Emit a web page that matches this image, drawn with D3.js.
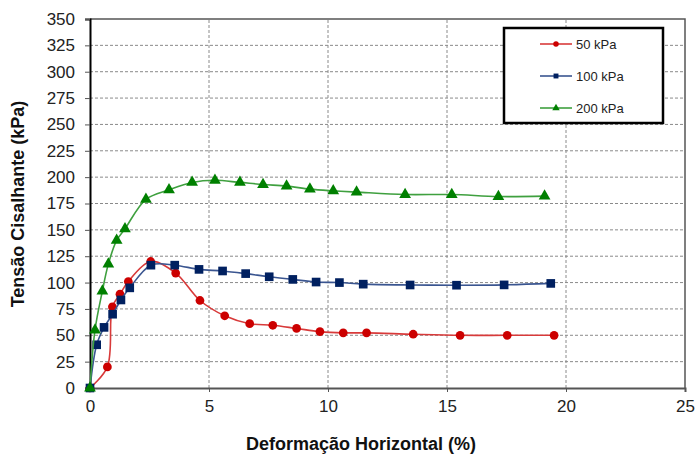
<!DOCTYPE html>
<html>
<head>
<meta charset="utf-8">
<script src="https://cdn.jsdelivr.net/npm/d3@7"></script>
<style>
  body { margin: 0; background: #fff; }
  svg { display: block; }
</style>
</head>
<body>
<div id="chart"></div>
<script>
// valores
const xTicks = [0, 5, 10, 15, 20, 25];
const yTicks = d3.range(0, 351, 25);

const x50 = [0, 0.73, 0.94, 1.26, 1.61, 2.55, 3.6, 4.62, 5.66, 6.71, 7.68, 8.68, 9.66, 10.64, 11.62, 13.58, 15.55, 17.53, 19.5];
const y50 = [0, 20, 77, 89, 101, 120, 109, 83, 68.5, 61, 59.5, 56.5, 53.5, 52.3, 52.3, 51, 50, 50, 50];

const x100 = [0, 0.28, 0.59, 0.95, 1.3, 1.67, 2.56, 3.56, 4.58, 5.57, 6.54, 7.53, 8.52, 9.5, 10.48, 11.48, 13.45, 15.4, 17.4, 19.36];
const y100 = [0, 41, 57.5, 70, 83.5, 95, 116.5, 116.5, 112.5, 111, 108.5, 105.5, 103, 100.5, 100, 98.5, 97.7, 97.5, 97.8, 99.2];

const x200 = [0, 0.21, 0.52, 0.77, 1.12, 1.47, 2.35, 3.32, 4.29, 5.25, 6.3, 7.27, 8.26, 9.24, 10.22, 11.2, 13.24, 15.2, 17.16, 19.1];
const y200 = [0, 55, 92, 117.5, 140, 151, 179, 188, 195, 197, 195, 193, 191.5, 188.6, 187, 185.8, 183.5, 183.5, 181.6, 182];

const seriesNames = ["50 kPa", "100 kPa", "200 kPa"];

const width = 695;
const height = 455;
const margin = { top: 19, right: 10, bottom: 67, left: 90 };
const tickFont = "'Liberation Sans Narrow', 'Arial Narrow', 'Liberation Sans', Arial, sans-serif";
const labelFont = "'Liberation Sans', Arial, sans-serif";

const series = [
  { name: seriesNames[0], xs: x50, ys: y50, color: "#cc0000", line: "#d83a3a", symbol: d3.symbolCircle, size: 60 },
  { name: seriesNames[1], xs: x100, ys: y100, color: "#002060", line: "#3a5590", symbol: d3.symbolSquare, size: 75 },
  { name: seriesNames[2], xs: x200, ys: y200, color: "#008000", line: "#3fa03f", symbol: d3.symbolTriangle, size: 60 }
];

const svg = d3.select("#chart")
  .append("svg")
  .attr("width", width)
  .attr("height", height);

const x = d3.scaleLinear().domain([0, 25]).range([margin.left, width - margin.right]);
const y = d3.scaleLinear().domain([0, 350]).range([height - margin.bottom, margin.top]);

// grade tracejada
svg.append("g")
  .selectAll("line")
  .data(yTicks.filter(d => d > 0 && d < 350))
  .join("line")
  .attr("x1", x(0)).attr("x2", x(25))
  .attr("y1", d => y(d)).attr("y2", d => y(d))
  .attr("stroke", "#8a8a8a")
  .attr("stroke-dasharray", "3,2");

svg.append("g")
  .selectAll("line")
  .data(xTicks.filter(d => d > 0 && d < 25))
  .join("line")
  .attr("x1", d => x(d)).attr("x2", d => x(d))
  .attr("y1", y(0)).attr("y2", y(350))
  .attr("stroke", "#8a8a8a")
  .attr("stroke-dasharray", "3,2");

// moldura (topo e direita)
svg.append("path")
  .attr("d", `M${x(0)},${y(350)}H${x(25)}V${y(0)}`)
  .attr("fill", "none")
  .attr("stroke", "#555")
  .attr("stroke-width", 1.5);

// eixos
const xAxis = svg.append("g")
  .attr("transform", `translate(0,${y(0)})`)
  .call(d3.axisBottom(x).tickValues(xTicks).tickSize(4).tickPadding(8));
xAxis.select(".domain").attr("stroke", "#555").attr("stroke-width", 2);
xAxis.selectAll(".tick line").attr("stroke", "#555");
xAxis.selectAll("text")
  .style("font-family", tickFont)
  .style("font-size", "17px")
  .attr("fill", "#222");

const yAxis = svg.append("g")
  .attr("transform", `translate(${x(0)},0)`)
  .call(d3.axisLeft(y).tickValues(yTicks).tickSize(5).tickPadding(10));
yAxis.select(".domain").attr("stroke", "#000").attr("stroke-width", 2);
yAxis.selectAll(".tick line").attr("stroke", "#555");
yAxis.selectAll("text")
  .style("font-family", tickFont)
  .style("font-size", "17px")
  .attr("fill", "#222");

// curvas
const line = d3.line()
  .x(d => x(d[0]))
  .y(d => y(d[1]))
  .curve(d3.curveCatmullRom);

series.forEach(s => {
  const pts = s.xs.map((v, i) => [v, s.ys[i]]);
  svg.append("path")
    .datum(pts)
    .attr("fill", "none")
    .attr("stroke", s.line)
    .attr("stroke-width", 1.6)
    .attr("d", line);

  svg.append("g")
    .selectAll("path")
    .data(pts)
    .join("path")
    .attr("transform", d => `translate(${x(d[0])},${y(d[1])})`)
    .attr("d", d3.symbol().type(s.symbol).size(s.size))
    .attr("fill", s.color);
});

// legenda
const legend = svg.append("g");
legend.append("rect")
  .attr("x", 504).attr("y", 28)
  .attr("width", 159).attr("height", 95)
  .attr("fill", "#fff")
  .attr("stroke", "#000")
  .attr("stroke-width", 2.5);

series.forEach((s, i) => {
  const ly = 44 + i * 32;
  legend.append("line")
    .attr("x1", 540).attr("x2", 572)
    .attr("y1", ly).attr("y2", ly)
    .attr("stroke", s.line)
    .attr("stroke-width", 1.6);
  legend.append("path")
    .attr("transform", `translate(556,${ly})`)
    .attr("d", d3.symbol().type(s.symbol).size(24))
    .attr("fill", s.color);
  legend.append("text")
    .attr("x", 576)
    .attr("y", ly + 5)
    .style("font-family", labelFont)
    .style("font-size", "13px")
    .attr("fill", "#222")
    .text(s.name);
});

// títulos dos eixos
svg.append("text")
  .attr("x", 361)
  .attr("y", 450)
  .attr("text-anchor", "middle")
  .style("font-family", labelFont)
  .style("font-size", "18px")
  .style("font-weight", "bold")
  .attr("fill", "#111")
  .text("Deformação Horizontal (%)");

svg.append("text")
  .attr("transform", "translate(24,204) rotate(-90)")
  .attr("text-anchor", "middle")
  .style("font-family", labelFont)
  .style("font-size", "18px")
  .style("font-weight", "bold")
  .attr("fill", "#111")
  .text("Tensão Cisalhante (kPa)");
</script>
</body>
</html>
